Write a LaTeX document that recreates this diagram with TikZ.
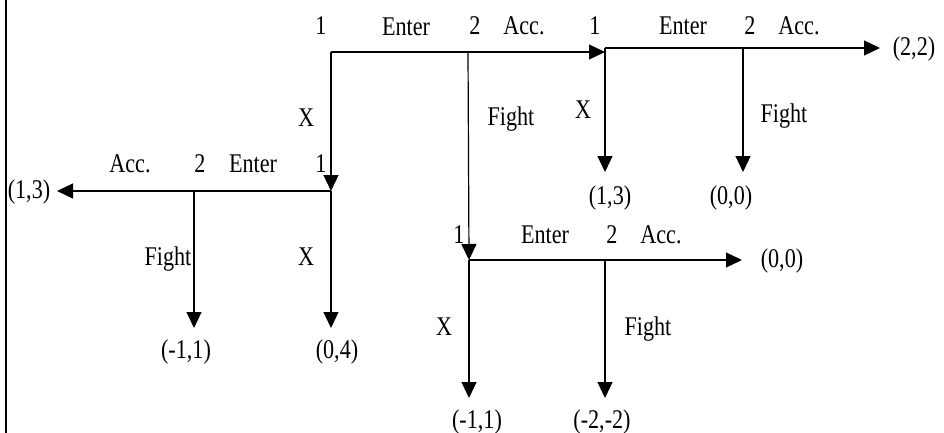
\documentclass[tikz,border=0pt]{standalone}
\usepackage{fontspec}
\setmainfont[FakeStretch=0.82]{Liberation Serif}
\usetikzlibrary{arrows.meta}
\tikzset{
  edge/.style={line width=1.2pt},
  arr/.style={edge,-{Triangle[length=16pt,width=15pt]}},
  lbl/.style={anchor=base,inner sep=0pt,font=\fontsize{27}{31}\selectfont},
}
\begin{document}
\begin{tikzpicture}[x=1pt,y=-1pt]
\useasboundingbox (0,0) rectangle (944,433);
% left border
\draw[line width=2.2pt] (6,0) -- (6,433);
% decision points
\coordinate (r) at (331,52);
\coordinate (r2) at (468,52);
\coordinate (aIn) at (605,52);
\coordinate (a) at (605,48);
\coordinate (a2) at (743,48);
\coordinate (aEnd) at (880,48);
\coordinate (aX) at (605,172);
\coordinate (aF) at (743,172);
\coordinate (l) at (331,191);
\coordinate (l2) at (194,191);
\coordinate (lEnd) at (57,191);
\coordinate (lX) at (331,328);
\coordinate (lF) at (194,328);
\coordinate (c) at (469,260);
\coordinate (c2) at (605,260);
\coordinate (cEnd) at (742,260);
\coordinate (cX) at (469,398);
\coordinate (cF) at (605,398);
% connectors
\draw[arr] (r) -- (aIn);
\draw[arr] (r) -- (l);
\draw[arr] (r2) -- (c);
\draw[arr] (a) -- (aEnd);
\draw[arr] (a) -- (aX);
\draw[arr] (a2) -- (aF);
\draw[arr] (l) -- (lEnd);
\draw[arr] (l) -- (lX);
\draw[arr] (l2) -- (lF);
\draw[arr] (c) -- (cEnd);
\draw[arr] (c) -- (cX);
\draw[arr] (c2) -- (cF);
% top row labels
\node[lbl] (t1) at (321,35) {1};
\node[lbl] (t2) at (406,36) {Enter};
\node[lbl] (t3) at (475,35) {2};
\node[lbl] (t4) at (524,35) {Acc.};
\node[lbl] (t5) at (595,35) {1};
\node[lbl] (t6) at (683,35) {Enter};
\node[lbl] (t7) at (750,35) {2};
\node[lbl] (t8) at (799,35) {Acc.};
\node[lbl] (p22) at (914,56) {(2,2)};
\node[lbl] (x1) at (306,127) {X};
\node[lbl] (f1) at (511,125) {Fight};
\node[lbl] (x2) at (583,118) {X};
\node[lbl] (f2) at (784,123) {Fight};
\node[lbl] (p13a) at (610,204) {(1,3)};
\node[lbl] (p00a) at (731,204) {(0,0)};
% left labels
\node[lbl] (m1) at (130,172) {Acc.};
\node[lbl] (m2) at (200,172) {2};
\node[lbl] (m3) at (253,172) {Enter};
\node[lbl] (m4) at (321,172) {1};
\node[lbl] (p13b) at (29,198) {(1,3)};
\node[lbl] (f3) at (168,265) {Fight};
\node[lbl] (x3) at (306,265) {X};
\node[lbl] (p11a) at (186,358) {(-1,1)};
\node[lbl] (p04) at (337,358) {(0,4)};
% lower labels
\node[lbl] (b1) at (459,243) {1};
\node[lbl] (b2) at (545,243) {Enter};
\node[lbl] (b3) at (612,243) {2};
\node[lbl] (b4) at (661,243) {Acc.};
\node[lbl] (p00b) at (782,267) {(0,0)};
\node[lbl] (x4) at (444,335) {X};
\node[lbl] (f4) at (648,335) {Fight};
\node[lbl] (p11b) at (477,428) {(-1,1)};
\node[lbl] (p22n) at (602,428) {(-2,-2)};
\end{tikzpicture}
\end{document}
